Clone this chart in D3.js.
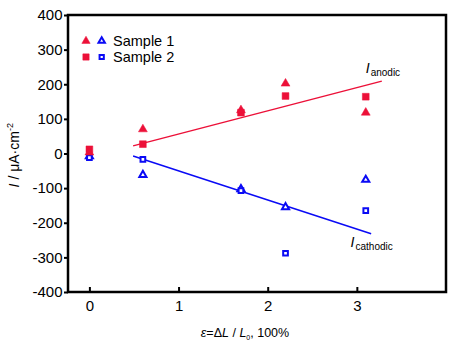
<!DOCTYPE html>
<html>
<head>
<meta charset="utf-8">
<script src="https://cdn.jsdelivr.net/npm/d3@7"></script>
<style>
  body { margin: 0; background: #fff; }
  svg text { font-family: "Liberation Sans", Arial, sans-serif; }
</style>
</head>
<body>
<div id="chart"></div>
<script>
// strain values (x) and measured currents
var strain = [0, 0.6, 1.7, 2.2, 3.1];
var s1Anodic = [3, 70, 125, 202, 118];
var s1Cathodic = [-8, -62, -103, -155, -76];
var s2Anodic = [12, 27, 118, 166, 164];
var s2Cathodic = [-12, -17, -107, -288, -165];
// fitted trend lines (end points)
var fitAnodicX = [0.49, 3.28], fitAnodicY = [22, 209];
var fitCathodicX = [0.49, 3.16], fitCathodicY = [-7, -232];
var xTicks = [0, 1, 2, 3];
var yTicks = [-400, -300, -200, -100, 0, 100, 200, 300, 400];

var red = "#ec1038", blue = "#0a0af5";

var margin = {top: 15, right: 15, bottom: 52, left: 68},
    width = 461 - margin.left - margin.right,
    height = 344 - margin.top - margin.bottom;

var svg = d3.select("#chart").append("svg")
    .attr("width", 461)
    .attr("height", 344);
var g = svg.append("g")
    .attr("transform", "translate(" + margin.left + "," + margin.top + ")");

var x = d3.scaleLinear().domain([-0.24, 4.0]).range([0, width]);
var y = d3.scaleLinear().domain([-400, 400]).range([height, 0]);
var fmt = function(d) { return String(d); };

// y axis, ticks outward
var yAxis = g.append("g")
    .call(d3.axisLeft(y).tickValues(yTicks).tickFormat(fmt).tickSize(4).tickPadding(1.5));
yAxis.select(".domain").remove();
yAxis.selectAll("line").attr("stroke-width", 2);
yAxis.selectAll("text").style("font-size", "15px").attr("fill", "#000");

// x axis, ticks inward
var xAxis = g.append("g")
    .attr("transform", "translate(0," + height + ")")
    .call(d3.axisBottom(x).tickValues(xTicks).tickFormat(fmt).tickSize(-5).tickPadding(8));
xAxis.select(".domain").remove();
xAxis.selectAll("line").attr("stroke-width", 2);
xAxis.selectAll("text").style("font-size", "15px").attr("fill", "#000");

// frame
g.append("rect")
    .attr("width", width).attr("height", height)
    .attr("fill", "none").attr("stroke", "#000").attr("stroke-width", 2.5);

// axis titles
var yl = svg.append("text")
    .attr("transform", "translate(19," + (margin.top + y(-5)) + ") rotate(-90)")
    .attr("text-anchor", "middle")
    .style("font-size", "14px");
yl.append("tspan").style("font-style", "italic").text("I");
yl.append("tspan").text(" / \u03bcA\u00b7cm");
yl.append("tspan").attr("dy", -6).style("font-size", "9px").text("-2");

var xl = svg.append("text")
    .attr("x", 245).attr("y", 337)
    .attr("text-anchor", "middle")
    .style("font-size", "12.5px");
xl.append("tspan").style("font-style", "italic").text("\u03b5");
xl.append("tspan").text("=\u0394");
xl.append("tspan").style("font-style", "italic").text("L");
xl.append("tspan").text(" / ");
xl.append("tspan").style("font-style", "italic").text("L");
xl.append("tspan").attr("dy", 3).style("font-size", "7px").text("0");
xl.append("tspan").attr("dy", -3).text(", 100%");

// fitted lines
var line = d3.line().x(function(d) { return x(d[0]); }).y(function(d) { return y(d[1]); });
g.append("path")
    .attr("d", line(d3.zip(fitAnodicX, fitAnodicY)))
    .attr("fill", "none").attr("stroke", red).attr("stroke-width", 1.5);
g.append("path")
    .attr("d", line(d3.zip(fitCathodicX, fitCathodicY)))
    .attr("fill", "none").attr("stroke", blue).attr("stroke-width", 1.5);

var tri = d3.symbol().type(d3.symbolTriangle);
var sq = d3.symbol().type(d3.symbolSquare);

function drawSeries(vals, sym, size, color, filled) {
  g.selectAll(null).data(d3.zip(strain, vals)).enter()
    .append("path")
    .attr("transform", function(d) { return "translate(" + x(d[0]) + "," + y(d[1]) + ")"; })
    .attr("d", sym.size(size)())
    .attr("fill", filled ? color : "#fff")
    .attr("stroke", color)
    .attr("stroke-width", filled ? 0.5 : 2);
}
drawSeries(s1Cathodic, tri, 22, blue, false);
drawSeries(s2Cathodic, sq, 22, blue, false);
drawSeries(s2Anodic, sq, 46, red, true);
drawSeries(s1Anodic, tri, 34, red, true);

// line labels
var la = g.append("text").attr("x", x(3.1)).attr("y", y(233)).style("font-size", "14px");
la.append("tspan").style("font-style", "italic").text("I");
la.append("tspan").attr("dy", 3).attr("dx", 1).style("font-size", "10px").text("anodic");
var lc = g.append("text").attr("x", x(2.93)).attr("y", y(-270)).style("font-size", "14px");
lc.append("tspan").style("font-style", "italic").text("I");
lc.append("tspan").attr("dy", 3).attr("dx", 1).style("font-size", "10px").text("cathodic");

// legend
var legend = g.append("g");
var rows = [{label: "Sample 1", sym: tri, s1: 30, s2: 18}, {label: "Sample 2", sym: sq, s1: 40, s2: 18}];
rows.forEach(function(r, i) {
  var cy = 26 + i * 16;
  legend.append("path").attr("transform", "translate(18," + cy + ")")
    .attr("d", r.sym.size(r.s1)()).attr("fill", red).attr("stroke", red).attr("stroke-width", 0.5);
  legend.append("path").attr("transform", "translate(33.7," + cy + ")")
    .attr("d", r.sym.size(r.s2)()).attr("fill", "#fff").attr("stroke", blue).attr("stroke-width", 2);
  legend.append("text").attr("x", 45).attr("y", cy + 5)
    .style("font-size", "14.5px").attr("fill", "#000").text(r.label);
});
</script>
</body>
</html>
